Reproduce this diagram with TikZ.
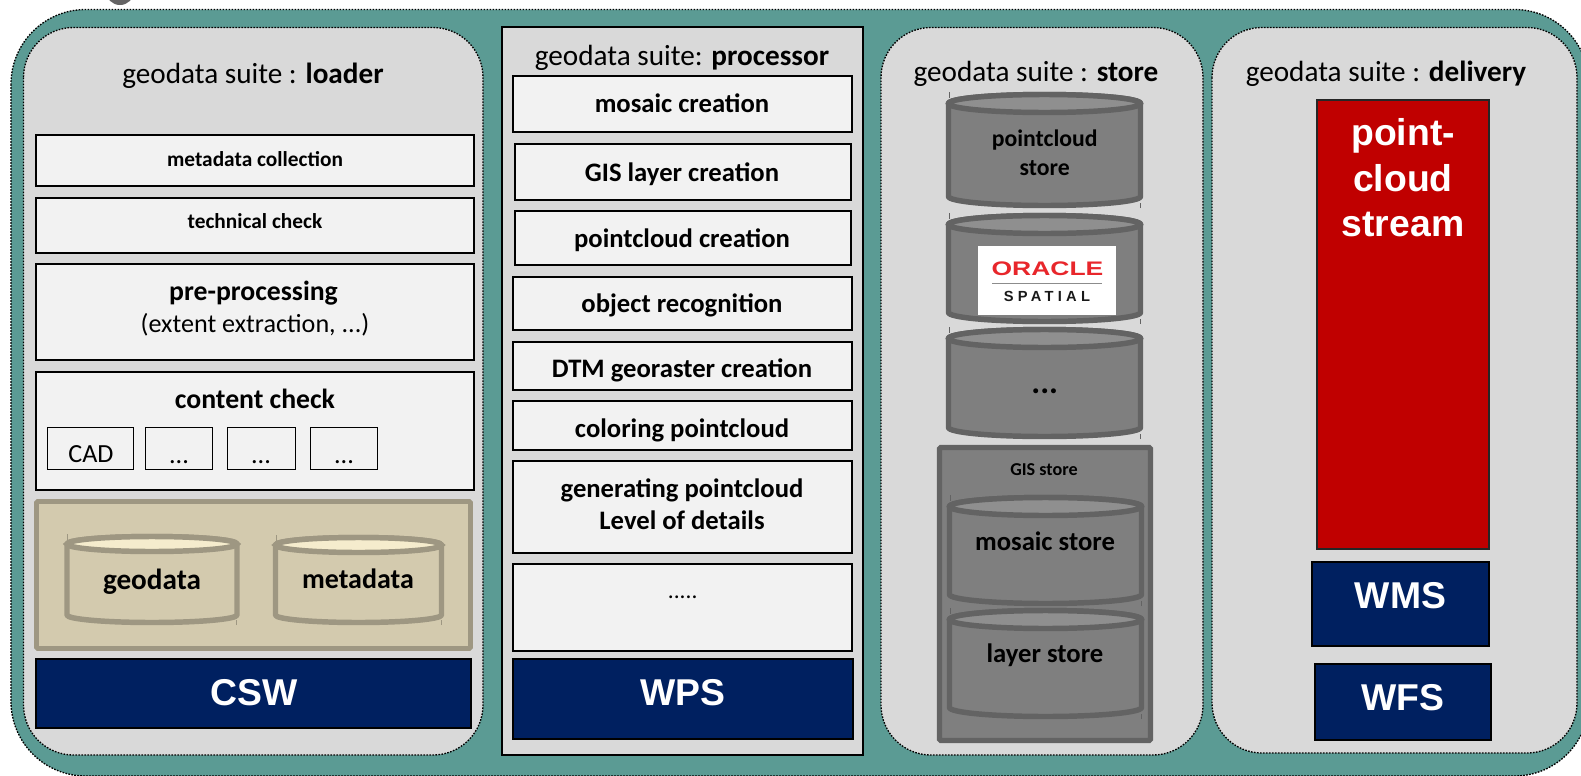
\documentclass[tikz,border=0pt]{standalone}
\usepackage{fontspec}
\usepackage{graphicx}
\setmainfont{Carlito}
\newfontfamily\arialf{Liberation Sans}
\definecolor{teal}{HTML}{5B9B94}
\definecolor{panel}{HTML}{D9D9D9}
\definecolor{boxf}{HTML}{F2F2F2}
\definecolor{navy}{HTML}{002060}
\definecolor{redb}{HTML}{C00000}
\definecolor{tanf}{HTML}{D3CAAE}
\definecolor{tans}{HTML}{9E9782}
\definecolor{tant}{HTML}{F5ECCD}
\definecolor{grayf}{HTML}{7F7F7F}
\definecolor{grays}{HTML}{636363}
\definecolor{grayt}{HTML}{8F8F8F}
\definecolor{orared}{HTML}{E8262B}
\tikzset{
 x=0.75pt,y=-0.75pt,
 dotted panel/.style={draw=black,line width=1pt,dash pattern=on 1.2pt off 1.05pt,rounded corners=37.5pt},
 outerpanel/.style={dotted panel,fill=teal,rounded corners=56pt},
 suitepanel/.style={dotted panel,fill=panel},
 bx/.style={draw=black,line width=1.6pt,fill=boxf},
 smallbx/.style={draw=black,line width=1.1pt,fill=boxf},
 svc/.style={draw=black,line width=1.6pt,fill=navy},
 strm/.style={draw=black!85,line width=1.6pt,fill=redb},
 txt/.style={anchor=base,inner sep=0pt,outer sep=0pt,text=black},
 title/.style={txt,font=\fontsize{21.9}{26}\selectfont},
 lbl/.style={txt,font=\fontsize{16}{19}\selectfont\bfseries},
 big/.style={txt,font=\fontsize{20}{24}\selectfont\bfseries},
 bigl/.style={txt,font=\fontsize{20.8}{25}\selectfont\bfseries},
 reg/.style={txt,font=\fontsize{19.6}{24}\selectfont},
 wht/.style={txt,text=white,font=\arialf\fontsize{28}{34}\selectfont\bfseries},
}
% #1 inset, #2 name, #3 x1, #4 y1, #5 x2, #6 y2, #7 style
\newcommand{\rbox}[7]{%
 \pgfmathsetmacro{\cxx}{(#3+#5)/2}\pgfmathsetmacro{\cyy}{(#4+#6)/2}%
 \pgfmathsetmacro{\wxx}{(#5-#3-2*#1)*0.75}\pgfmathsetmacro{\hyy}{(#6-#4-2*#1)*0.75}%
 \node[#7,rectangle,inner sep=0pt,outer sep=0pt,minimum width=\wxx pt,minimum height=\hyy pt] (#2) at (\cxx,\cyy) {};}
\newcommand{\pbox}[6]{\rbox{0.4}{#1}{#2}{#3}{#4}{#5}{#6}}
\newcommand{\qbox}[6]{\rbox{0}{#1}{#2}{#3}{#4}{#5}{#6}}
% can: #1 x1 #2 y1 #3 x2 #4 y2 (stroke centre line) #5 ry #6 body #7 stroke #8 top
\newcommand{\can}[8]{%
 \pgfmathsetmacro{\rxx}{(#3-#1)/2}\pgfmathsetmacro{\cxx}{(#1+#3)/2}%
 \pgfmathsetmacro{\ytt}{#2+#5}\pgfmathsetmacro{\ybb}{#4-#5}%
 \draw[#7,line width=0.5pt] ({#1+0.5},{#2-2.5}) -- ({#1+0.5},{#2+3});
 \draw[#7,line width=0.5pt] ({#3-0.5},{#4+2.5}) -- ({#3-0.5},{#4-3});
 \draw[draw=#7,fill=#6,line width=4.1pt,line join=round]
  (#1,\ytt) arc[start angle=180,end angle=360,x radius=\rxx,y radius=#5]
  -- (#3,\ybb) arc[start angle=0,end angle=180,x radius=\rxx,y radius=#5] -- cycle;
 \draw[draw=#7,fill=#8,line width=4.1pt] (\cxx,\ytt) ellipse [x radius=\rxx,y radius=#5];}
\begin{document}
\begin{tikzpicture}
\clip (0,0) rectangle (1581,775);
\fill[white] (0,0) rectangle (1581,775);
\fill[grays] (120,-9) circle [radius=14];
\draw[outerpanel] (11,9.5) rectangle (1589,776);
% panels
\draw[suitepanel] (23.5,27.5) rectangle (483,755);
\pbox{procpanel}{502}{27}{863}{755}{draw=black,line width=1.6pt,fill=panel}
\draw[suitepanel] (881,27.5) rectangle (1203,755);
\draw[suitepanel] (1212,27.5) rectangle (1577,753);
% titles
\node[title] (t1) at (253,83) {geodata suite : \textbf{loader}};
\node[title] (t2) at (682,65.5) {geodata suite: \textbf{processor}};
\node[title] (t3) at (1036,81) {geodata suite : \textbf{store}};
\node[title] (t4) at (1386,81.5) {geodata suite : \textbf{delivery}};
% loader
\pbox{b1}{36}{135}{474}{186}{bx}
\pbox{b2}{36}{198}{474}{253}{bx}
\pbox{b3}{36}{264}{474}{360}{bx}
\pbox{b4}{36}{372}{474}{490}{bx}
\pbox{s1}{47.3}{427}{134}{470}{smallbx}
\pbox{s2}{145}{427}{213}{470}{smallbx}
\pbox{s3}{227}{427}{296}{470}{smallbx}
\pbox{s4}{310}{427}{378}{470}{smallbx}
\node[lbl] (l1) at (255,166.2) {metadata collection};
\node[lbl] (l2) at (255,228.5) {technical check};
\node[bigl] (l3) at (253.5,300.5) {pre-processing};
\node[reg] (l3b) at (255,332.5) {(extent extraction, ...)};
\node[bigl] (l4) at (255,408.5) {content check};
\node[reg] (c1) at (91,462.5) {CAD};
\node[reg] (c2) at (179,463.5) {...};
\node[reg] (c3) at (261,463.5) {...};
\node[reg] (c4) at (344,463.5) {...};
\qbox{tanbox}{36.5}{501.5}{470.5}{648.5}{draw=tans,fill=tanf,line width=3.7pt,rounded corners=1pt}
\can{67}{536.5}{237}{622.5}{7.5}{tanf}{tans}{tant}
\can{275.5}{537.5}{441.5}{622.5}{7.5}{tanf}{tans}{tant}
\node[txt,font=\fontsize{21.9}{26}\selectfont\bfseries] (geo) at (152,589) {geodata};
\node[txt,font=\fontsize{21}{25}\selectfont\bfseries] (met) at (358,588) {metadata};
\pbox{csw}{36}{659}{471}{728}{svc}
\node[wht] (cswt) at (254,705.7) {CSW};
% processor
\pbox{p1}{512.7}{75.3}{852.7}{132.7}{bx}
\pbox{p2}{514.3}{144}{851}{200}{bx}
\pbox{p3}{514.3}{210.7}{851}{265}{bx}
\pbox{p4}{513}{277}{852}{330}{bx}
\pbox{p5}{513}{342}{852}{390}{bx}
\pbox{p6}{513}{401}{852}{450}{bx}
\pbox{p7}{513}{461}{852.7}{553.5}{bx}
\pbox{p8}{513}{564}{852.7}{651}{bx}
\pbox{wps}{513}{659}{853}{739}{svc}
\node[big] (pt1) at (682,112.2) {mosaic creation};
\node[big] (pt2) at (682,181.2) {GIS layer creation};
\node[big] (pt3) at (682,247.2) {pointcloud creation};
\node[big] (pt4) at (682,312) {object recognition};
\node[big] (pt5) at (682,377) {DTM georaster creation};
\node[big] (pt6) at (682,437.5) {coloring pointcloud};
\node[big] (pt7a) at (682,497) {generating pointcloud};
\node[big] (pt7b) at (682,529.5) {Level of details};
\node[txt,font=\fontsize{17.5}{22}\selectfont] (pt8) at (682.7,598) {.....};
\node[wht] (wpst) at (683,705) {WPS};
% store
\can{948.5}{94.5}{1140.5}{205.5}{9}{grayf}{grays}{grayt}
\can{948.5}{215.5}{1140.5}{321.5}{9}{grayf}{grays}{grayt}
\can{948.5}{329.5}{1140.5}{436.5}{9}{grayf}{grays}{grayt}
\node[txt,font=\fontsize{17.8}{21}\selectfont\bfseries] (s1a) at (1044.7,146) {pointcloud};
\node[txt,font=\fontsize{17.8}{21}\selectfont\bfseries] (s1b) at (1044.7,175) {store};
\qbox{orlogo}{978}{246}{1116}{315}{fill=white}
\node[inner sep=0pt,anchor=base,text=orared] (orat) at (1047.5,275) {\scalebox{1.35}[1]{\arialf\fontsize{14.7}{17}\selectfont\bfseries ORACLE}};
\qbox{orrule}{992}{282.5}{1102}{283.8}{fill=black!45}
\node[inner sep=0pt,anchor=base,text=black!90] (spat) at (1047,301) {\arialf\fontsize{11}{13}\selectfont\bfseries\addfontfeature{LetterSpace=29}SPATIAL};
\node[txt,font=\fontsize{25}{30}\selectfont\bfseries] (dots) at (1044.7,393) {...};
\qbox{gis}{939.5}{447.5}{1150.5}{740.5}{draw=grays,fill=grayf,line width=3.9pt,rounded corners=1pt}
\node[txt,font=\fontsize{13.6}{16}\selectfont\bfseries] (gist) at (1044,475) {GIS store};
\can{949.5}{497.5}{1141.5}{603.5}{9}{grayf}{grays}{grayt}
\can{949.5}{610.5}{1141.5}{716.5}{9}{grayf}{grays}{grayt}
\node[big] (mos) at (1045,550.5) {mosaic store};
\node[big] (lay) at (1045,662.2) {layer store};
% delivery
\pbox{red}{1316.7}{99.3}{1489}{549.3}{strm}
\node[wht] (r1) at (1403,145) {point-};
\node[wht] (r2) at (1403,191.7) {cloud};
\node[wht] (r3) at (1403,236) {stream};
\pbox{wms}{1312}{561.7}{1489}{646}{svc}
\pbox{wfs}{1314.7}{663.7}{1491.7}{740.7}{svc}
\node[wht] (wmst) at (1400.5,608) {WMS};
\node[wht] (wfst) at (1403.2,710.7) {WFS};
\end{tikzpicture}
\end{document}
